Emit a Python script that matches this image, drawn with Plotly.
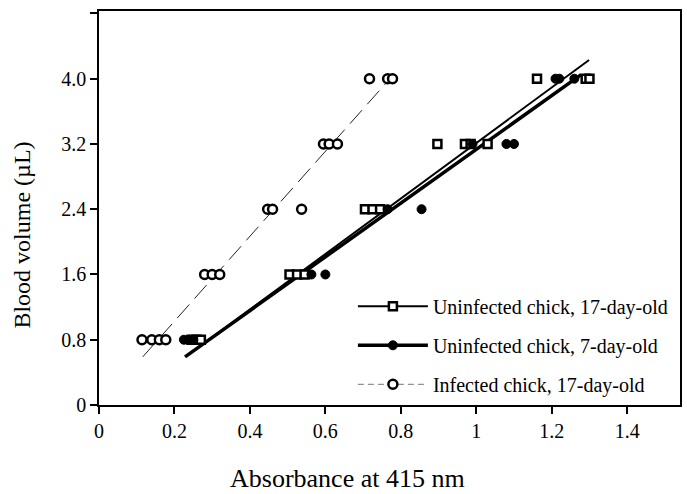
import plotly.graph_objects as go

# ---- data ----
# Uninfected chick, 17-day-old (open squares)
u17_x = [0.245, 0.258, 0.27, 0.505, 0.525, 0.545, 0.705, 0.725, 0.745, 0.897, 0.97, 0.985, 1.03, 1.161, 1.29, 1.30]
u17_y = [0.8, 0.8, 0.8, 1.6, 1.6, 1.6, 2.4, 2.4, 2.4, 3.2, 3.2, 3.2, 3.2, 4.0, 4.0, 4.0]
# Uninfected chick, 7-day-old (filled circles)
u7_x = [0.225, 0.24, 0.25, 0.563, 0.60, 0.765, 0.855, 0.99, 1.08, 1.10, 1.21, 1.22, 1.26]
u7_y = [0.8, 0.8, 0.8, 1.6, 1.6, 2.4, 2.4, 3.2, 3.2, 3.2, 4.0, 4.0, 4.0]
# Infected chick, 17-day-old (open circles)
inf_x = [0.114, 0.14, 0.16, 0.177, 0.28, 0.30, 0.32, 0.447, 0.46, 0.537, 0.595, 0.61, 0.632, 0.717, 0.765, 0.778]
inf_y = [0.8, 0.8, 0.8, 0.8, 1.6, 1.6, 1.6, 2.4, 2.4, 2.4, 3.2, 3.2, 3.2, 4.0, 4.0, 4.0]

# fitted regression lines (end points)
u17_fit_x = [0.262, 1.299]
u17_fit_y = [0.70, 4.23]
u7_fit_x = [0.228, 1.278]
u7_fit_y = [0.59, 4.05]
inf_fit_x = [0.116, 0.775]
inf_fit_y = [0.59, 4.02]

names = ["Uninfected chick, 17-day-old", "Uninfected chick, 7-day-old", "Infected chick, 17-day-old"]
x_title = "Absorbance at 415 nm"
y_title = "Blood volume (µL)"

x_ticks = [0, 0.2, 0.4, 0.6, 0.8, 1.0, 1.2, 1.4]
x_ticktext = ["0", "0.2", "0.4", "0.6", "0.8", "1", "1.2", "1.4"]
y_ticks = [0, 0.8, 1.6, 2.4, 3.2, 4.0, 4.8]
y_ticktext = ["0", "0.8", "1.6", "2.4", "3.2", "4.0", ""]

FONT = "Liberation Serif"

fig = go.Figure()

# fit lines
fig.add_trace(go.Scatter(x=u17_fit_x, y=u17_fit_y, mode="lines",
                         line=dict(color="black", width=2), showlegend=False, hoverinfo="skip"))
fig.add_trace(go.Scatter(x=u7_fit_x, y=u7_fit_y, mode="lines",
                         line=dict(color="black", width=3.5), showlegend=False, hoverinfo="skip"))
fig.add_trace(go.Scatter(x=inf_fit_x, y=inf_fit_y, mode="lines",
                         line=dict(color="#222222", width=1, dash="18px,8px"), showlegend=False, hoverinfo="skip"))

# data points
fig.add_trace(go.Scatter(x=u17_x, y=u17_y, mode="markers", showlegend=False,
                         marker=dict(symbol="square", size=8, color="white",
                                     line=dict(color="black", width=2.5))))
fig.add_trace(go.Scatter(x=u7_x, y=u7_y, mode="markers", showlegend=False,
                         marker=dict(symbol="circle", size=9, color="black",
                                     line=dict(color="black", width=1))))
fig.add_trace(go.Scatter(x=inf_x, y=inf_y, mode="markers", showlegend=False,
                         marker=dict(symbol="circle", size=9, color="white",
                                     line=dict(color="black", width=2.5))))

# legend entries
fig.add_trace(go.Scatter(x=[None], y=[None], mode="lines+markers", name=names[0], legendgroup="a",
                         line=dict(color="black", width=2),
                         marker=dict(symbol="square", size=8, color="white", line=dict(color="black", width=2.5))))
fig.add_trace(go.Scatter(x=[None], y=[None], mode="lines+markers", name=names[1], legendgroup="b",
                         line=dict(color="black", width=3.5),
                         marker=dict(symbol="circle", size=9, color="black", line=dict(color="black", width=1))))
fig.add_trace(go.Scatter(x=[None], y=[None], mode="lines+markers", name=names[2], legendgroup="c",
                         line=dict(color="#777777", width=1, dash="6px,4px"),
                         marker=dict(symbol="circle", size=9, color="white", line=dict(color="black", width=2.5))))

fig.update_layout(
    width=687, height=494,
    margin=dict(l=99, r=5, t=11, b=89),
    paper_bgcolor="white", plot_bgcolor="white",
    font=dict(family=FONT, color="black", size=20),
    showlegend=True,
    legend=dict(x=0.437, y=0.30, xanchor="left", yanchor="top",
                font=dict(family=FONT, size=20, color="black"),
                itemwidth=70, traceorder="grouped", tracegroupgap=10,
                bgcolor="rgba(0,0,0,0)", borderwidth=0),
    xaxis=dict(range=[0, 1.54], tickvals=x_ticks, ticktext=x_ticktext,
               showgrid=False, zeroline=False, showline=True, linecolor="black", linewidth=1.5,
               mirror=True, ticks="outside", ticklen=7, tickwidth=1.5, tickcolor="black",
               tickfont=dict(family=FONT, size=20)),
    yaxis=dict(range=[0, 4.83], tickvals=y_ticks, ticktext=y_ticktext,
               showgrid=False, zeroline=False, showline=True, linecolor="black", linewidth=1.5,
               mirror=True, ticks="outside", ticklen=7, tickwidth=1.5, tickcolor="black",
               tickfont=dict(family=FONT, size=20)),
    annotations=[
        dict(text=x_title, xref="paper", yref="paper", x=0.428, y=0, xanchor="center", yanchor="middle",
             yshift=-73, showarrow=False, font=dict(family=FONT, size=26, color="black")),
        dict(text=y_title, xref="paper", yref="paper", x=0, y=0.43, xanchor="center", yanchor="middle",
             xshift=-77, textangle=-90, showarrow=False, font=dict(family=FONT, size=24, color="black")),
    ],
)

fig.write_html("out.html", config={"displayModeBar": False},
               post_script="document.body.style.margin='0';document.body.style.overflow='hidden';")
